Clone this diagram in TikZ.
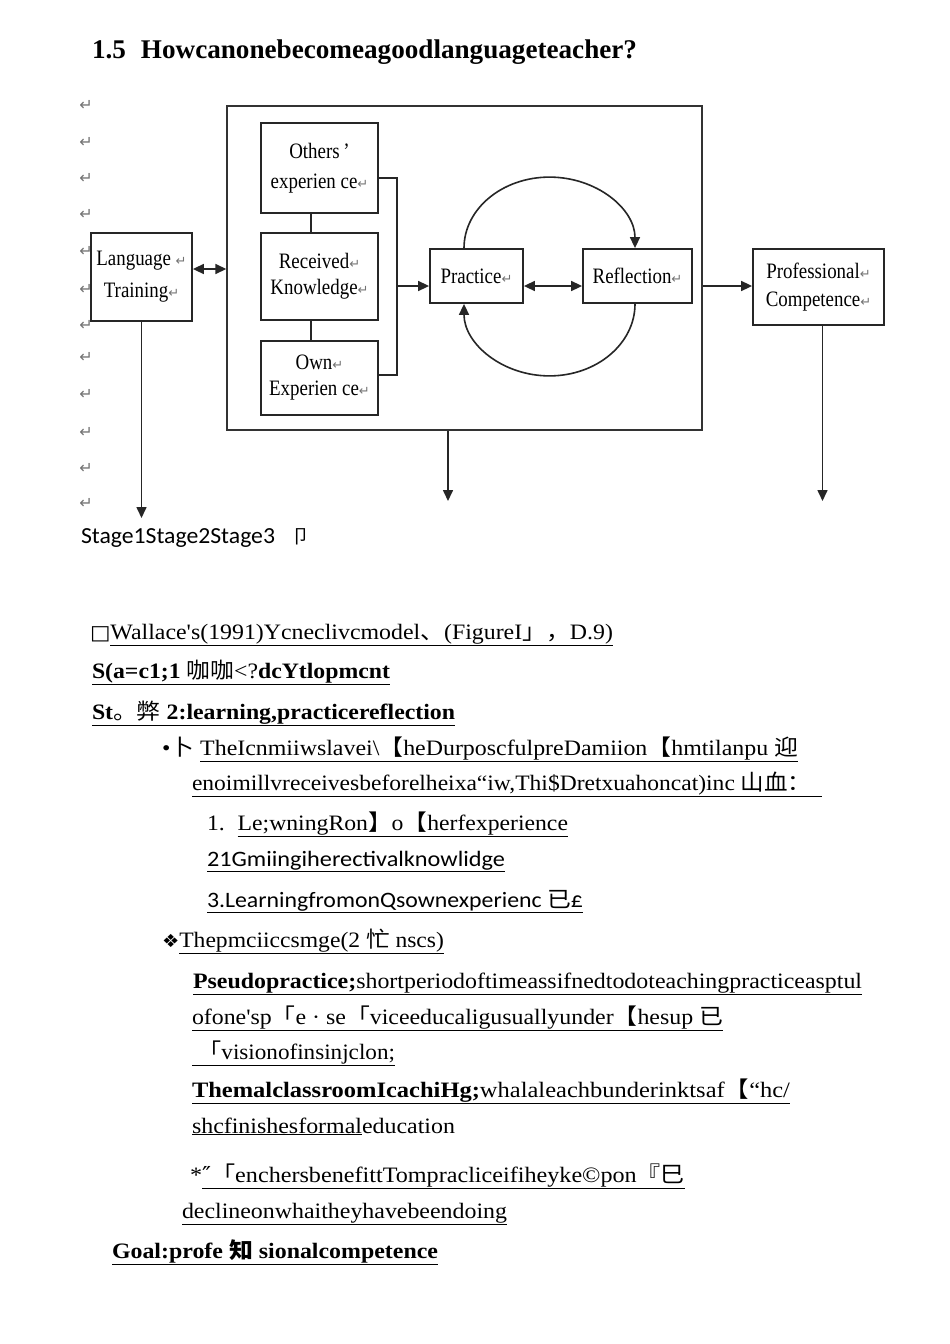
\documentclass[tikz,border=0pt]{standalone}
\usepackage{fontspec}
\usepackage{graphicx}
\usetikzlibrary{arrows.meta}
\setmainfont{Liberation Serif}
\newfontfamily\cjk{Noto Sans CJK SC}
\newfontfamily\carl{Carlito}
\newfontfamily\dvs{DejaVu Sans}
\newfontfamily\cond[FakeStretch=0.86]{Liberation Serif}
\newcommand\fitw[2]{\resizebox{#1pt}{\height}{#2}}
\newcommand\ret{{\color{black!55}\dvs\fontsize{13}{13}\selectfont ↵}}
\begin{document}
\begin{tikzpicture}[x=1pt,y=-1pt,
  txt/.style={anchor=base west, inner sep=0, outer sep=0, font=\fontsize{22}{26}\selectfont},
  box/.style={draw=black!85, line width=1.8pt, inner sep=0, align=center, font=\cond\fontsize{22}{27}\selectfont},
  conn/.style={draw=black!85, line width=1.6pt},
  tip/.style={-{Triangle[length=11pt,width=10pt]}},
  dtip/.style={{Triangle[length=11pt,width=10pt]}-{Triangle[length=11pt,width=10pt]}},
  retmark/.style={inner sep=0, text=black!55, font=\dvs\fontsize{16}{16}\selectfont}]
\useasboundingbox[fill=white] (0,0) rectangle (950,1344);

% left column return marks
\foreach \yy [count=\i] in {105,142,178,214,251,289,325,357,394,432,468,503}
  \node[retmark] (m\i) at (86,\yy) {↵};

% diagram
\node[draw=black!80, line width=1.4pt, minimum width=475pt, minimum height=324pt, inner sep=0] (outer) at (464.5,268) {};
\node[box, minimum width=101pt, minimum height=88pt, font=\cond\fontsize{22}{32}\selectfont] (lang) at (141.5,277) {Language \ret\\Training\ret};
\node[box, minimum width=117pt, minimum height=90pt, font=\cond\fontsize{22}{30}\selectfont] (others) at (319.5,168) {Others\,\textquoteright\\experien ce\ret};
\node[box, minimum width=117pt, minimum height=87pt, font=\cond\fontsize{22}{26}\selectfont] (rec) at (319.5,276.5) {Received\ret\\Knowledge\ret};
\node[box, minimum width=117pt, minimum height=74pt, font=\cond\fontsize{22}{26}\selectfont] (own) at (319.5,378) {Own\ret\\Experien ce\ret};
\node[box, minimum width=93pt, minimum height=54pt] (prac) at (476.5,276) {Practice\ret};
\node[box, minimum width=109pt, minimum height=54pt] (refl) at (637.5,276) {Reflection\ret};
\node[box, minimum width=131pt, minimum height=76pt, font=\cond\fontsize{22}{28}\selectfont] (prof) at (818.5,287) {Professional\ret\\Competence\ret};

\coordinate (br) at (397,286);
\coordinate (e1) at (141.5,518);
\coordinate (e2) at (448,501);
\coordinate (e3) at (822.5,501);

\draw[conn, dtip] ([yshift=8pt]lang.east) -- ([yshift=8pt]lang.east -| outer.west);
\draw[conn] ([xshift=-8.5pt]others.south) -- ([xshift=-8.5pt]rec.north);
\draw[conn] ([xshift=-8.5pt]rec.south) -- ([xshift=-8.5pt]own.north);
\draw[conn] ([yshift=-10pt]others.east) -| (br) |- ([yshift=3pt]own.east);
\draw[conn, tip] (br) -- (br -| prac.west);
\draw[conn, dtip] (br -| prac.east) -- (br -| refl.west);
\draw[conn, tip] (br -| outer.east) -- (br -| prof.west);
\draw[conn, tip] (prac.north -| 464,0) arc[start angle=180, end angle=0, x radius=85.5pt, y radius=71pt];
\draw[conn, tip] (refl.south -| 635,0) arc[start angle=0, end angle=-180, x radius=85.5pt, y radius=72pt];
\draw[conn, tip] (lang.south) -- (e1);
\draw[conn, tip] (e2 |- outer.south) -- (e2);
\draw[conn, tip] (e3 |- prof.south) -- (e3);

% text lines
\node[txt] (h) at (92,58) {\fitw{545}{\fontsize{27}{30}\selectfont\bfseries 1.5\hspace{15pt}Howcanonebecomeagoodlanguageteacher?}};
\node[txt] (s1) at (81,543) {\fitw{194}{\carl\fontsize{23}{26}\selectfont Stage1Stage2Stage3}};
\node[txt] (s2) at (291,543) {\cjk\fontsize{19}{20}\selectfont 卩};
\node[txt] (l3) at (90,639) {\fitw{523}{{\dvs\fontsize{20}{22}\selectfont □}\underline{Wallace\textquotesingle s(1991)Ycneclivcmodel{\cjk 、}(FigureI{\cjk 」，}D.9)}}};
\node[txt] (l4) at (92,678) {\fitw{298}{\underline{\textbf{S(a=c1;1} {\cjk 咖咖}<?\textbf{dcYtlopmcnt}}}};
\node[txt] (l5) at (92,719) {\fitw{363}{\underline{\textbf{St}{\cjk 。弊} \textbf{2:learning,practicereflection}}}};
\node[txt] (l6) at (162,755) {\fitw{636}{•{\cjk 卜} \underline{TheIcnmiiwslavei\textbackslash{\cjk 【}heDurposcfulpreDamiion{\cjk 【}hmtilanpu {\cjk 迎}}}};
\node[txt] (l7) at (192,790) {\fitw{630}{\underline{enoimillvreceivesbeforelheixa“iw,Thi\$Dretxuahoncat)inc {\cjk 山血：}\hspace{10pt}}}};
\node[txt] (l8) at (207,830) {\fitw{361}{1.\hspace{12pt}\underline{Le;wningRon{\cjk 】}o{\cjk 【}herfexperience}}};
\node[txt] (l9) at (207,866) {\fitw{298}{\carl\underline{21Gmiingiherectivalknowlidge}}};
\node[txt] (l10) at (207,907) {\fitw{376}{\carl\underline{3.LearningfromonQsownexperienc {\cjk 已}£}}};
\node[txt] (l11) at (162,947) {\fitw{282}{{\dvs\fontsize{18}{20}\selectfont ❖}\underline{Thepmciiccsmge(2 {\cjk 忙} nscs)}}};
\node[txt] (l12) at (193,988) {\fitw{669}{\underline{\textbf{Pseudopractice;}shortperiodoftimeassifnedtodoteachingpracticeasptul}}};
\node[txt] (l13) at (192,1024) {\fitw{531}{\underline{ofone\textquotesingle sp{\cjk 「}e · se{\cjk 「}viceeducaligusuallyunder{\cjk 【}hesup {\cjk 已}}}};
\node[txt] (l14) at (192,1059) {\fitw{203}{\underline{\hspace{6pt}{\cjk 「}visionofinsinjclon;}}};
\node[txt] (l15) at (192,1097) {\fitw{598}{\underline{\textbf{ThemalclassroomIcachiHg;}whalaleachbunderinktsaf{\cjk 【}“hc/}}};
\node[txt] (l16) at (192,1133) {\fitw{263}{\underline{shcfinishesformal}education}};
\node[txt] (l17) at (190,1182) {\fitw{495}{*\underline{{\dvs ″}{\cjk 「}enchersbenefittTompracliceifiheyke©pon{\cjk 『巳}}}};
\node[txt] (l18) at (182,1218) {\fitw{325}{\underline{declineonwhaitheyhavebeendoing}}};
\node[txt] (l19) at (112,1258) {\fitw{326}{\underline{\textbf{Goal:profe {\cjk 知} sionalcompetence}}}};
\end{tikzpicture}
\end{document}
